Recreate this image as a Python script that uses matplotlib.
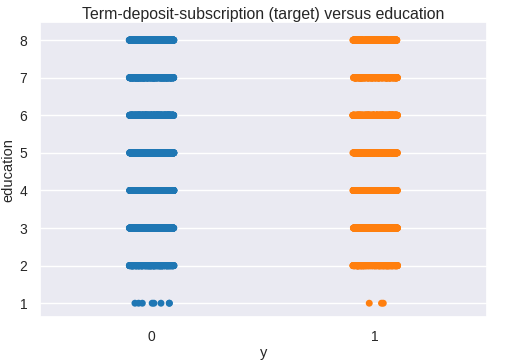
import numpy as np
import pandas as pd
import matplotlib
matplotlib.use("Agg")
import matplotlib.pyplot as plt
import seaborn as sns

# number of clients per education level, split by subscription (y)
education_levels = [1, 2, 3, 4, 5, 6, 7, 8]
counts_no = [8, 400, 400, 400, 400, 400, 400, 400]
counts_yes = [3, 300, 300, 300, 300, 300, 300, 300]

edu = np.concatenate([np.repeat(education_levels, counts_no),
                      np.repeat(education_levels, counts_yes)])
target = np.concatenate([np.zeros(sum(counts_no), dtype=int),
                         np.ones(sum(counts_yes), dtype=int)])
df = pd.DataFrame({"y": target, "education": edu})

sns.set_theme(style="darkgrid")
plt.rcParams["font.family"] = ["Liberation Sans", "DejaVu Sans"]

np.random.seed(3)
fig, ax = plt.subplots(figsize=(5.12, 3.62), dpi=100)
sns.stripplot(data=df, x="y", y="education", hue="y", legend=False,
              palette=["#1f77b4", "#ff7f0e"], ax=ax)
ax.set_title("Term-deposit-subscription (target) versus education", fontsize=11.4, pad=2)
ax.set_xlabel("y", fontsize=10.5, labelpad=2)
ax.set_ylabel("education", fontsize=10.5, labelpad=3)
ax.tick_params(labelsize=10, pad=3)
ax.set_ylim(0.63, 8.48)
fig.subplots_adjust(left=0.078, right=0.951, top=0.939, bottom=0.124)
fig.savefig("out.png")
